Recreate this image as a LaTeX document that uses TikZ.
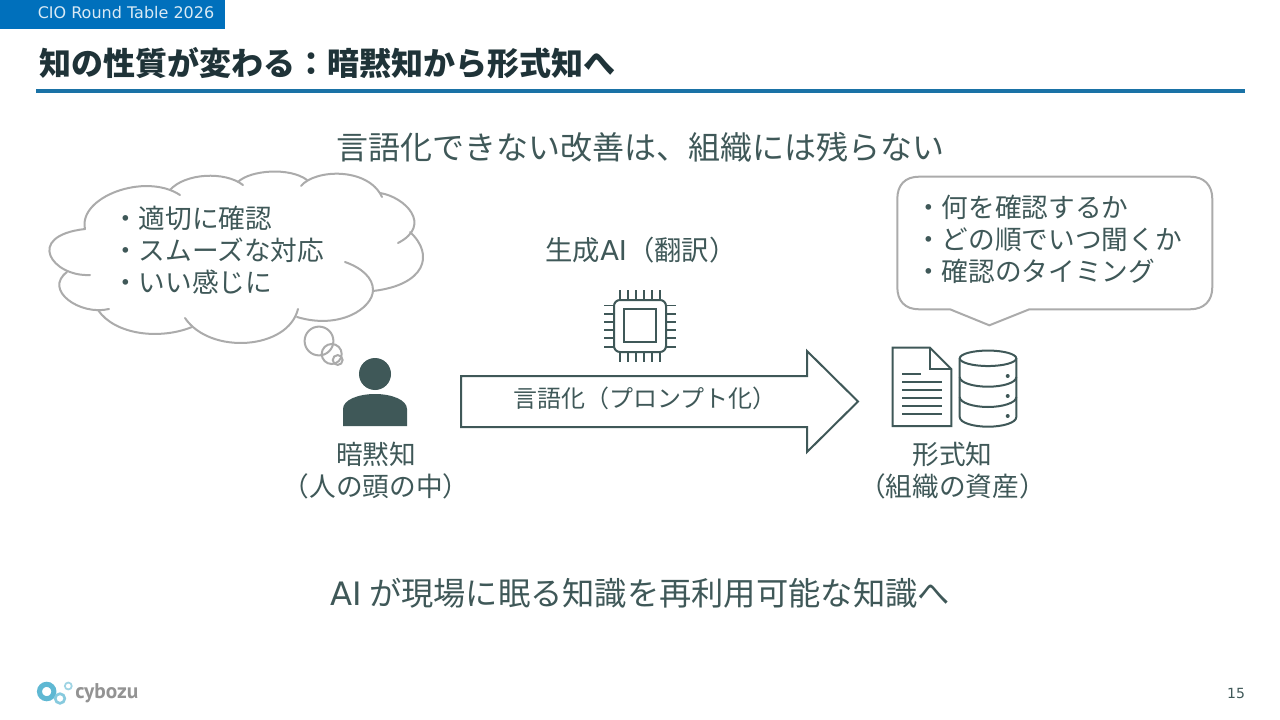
\documentclass[tikz,border=0pt]{standalone}
\usepackage{fontspec}
\setmainfont{Noto Sans CJK JP}
\newfontfamily\latinfont{DejaVu Sans}
\newfontfamily\logofont{PT Sans}
\definecolor{ink}{HTML}{3F5858}
\definecolor{titleink}{HTML}{1F3338}
\definecolor{band}{HTML}{0070BC}
\definecolor{rulecol}{HTML}{1A72A6}
\definecolor{cloudgray}{HTML}{ABABAB}
\definecolor{logoblue}{HTML}{5FB8D3}
\tikzset{
  x=0.75pt,y=-0.75pt,
  label24/.style={inner sep=0pt,text=ink,font=\fontsize{24}{28}\selectfont},
  label20/.style={inner sep=0pt,text=ink,font=\fontsize{20}{24}\selectfont,align=center},
  bullets/.style={inner sep=0pt,text=ink,anchor=west,font=\fontsize{20}{24}\selectfont,align=left},
  lobe/.style={draw=cloudgray,line width=1.5pt,line cap=round},
  icon/.style={draw=ink,line width=1.5pt},
  thin icon/.style={draw=ink,line width=1.4pt},
}
\begin{document}
\begin{tikzpicture}
\useasboundingbox (0,0) rectangle (1280,720);
\fill[white] (0,0) rectangle (1280,720);
% header
\fill[band] (0,0) rectangle (225,29);
\node[inner sep=0pt,text=white!85!band,font=\latinfont\fontsize{12}{14}\selectfont] (tag) at (126,13) {CIO Round Table 2026};
\node[inner sep=0pt,anchor=west,text=titleink,font=\bfseries\fontsize{24}{28}\selectfont] (title) at (39,63) {知の性質が変わる：暗黙知から形式知へ};
\draw[rulecol,line width=2.5pt] (36,91) -- (1245,91);
\node[label24] (head) at (640.5,147) {言語化できない改善は、組織には残らない};
% cloud
\draw[lobe] (85,229) .. controls (78,197) and (145,172) .. (180,195);
\draw[lobe] (170,190) .. controls (185,173) and (225,171) .. (243,185);
\draw[lobe] (238,182) .. controls (250,170) and (290,167) .. (307,180);
\draw[lobe] (301,186) .. controls (315,169) and (368,167) .. (382,197);
\draw[lobe] (380,193) .. controls (405,197) and (433,225) .. (398,243);
\draw[lobe] (410,232) .. controls (435,255) and (425,285) .. (373,291);
\draw[lobe] (345,262) .. controls (362,268) and (373,278) .. (373,290) .. controls (373,308) and (340,330) .. (297,317);
\draw[lobe] (298,309) .. controls (288,350) and (210,355) .. (185,318);
\draw[lobe] (192,327) .. controls (160,340) and (115,335) .. (98,310);
\draw[lobe] (109,309) .. controls (80,316) and (43,290) .. (67,272);
\draw[lobe] (90,275) .. controls (52,277) and (24,236) .. (85,229);
\node[bullets] (cloudtext) at (112,250) {\baselineskip=24pt ・適切に確認\\ ・スムーズな対応\\ ・いい感じに};
% thought circles
\draw[lobe] (319,341) circle[radius=10.8pt];
\draw[lobe] (331.7,354) circle[radius=7.5pt];
\draw[lobe] (337.7,360) circle[radius=3.7pt];
% person
\fill[ink] (375,374) circle[radius=12pt];
\fill[ink] (343,426) -- (343,409) .. controls (343,400) and (358,394) .. (375,394) .. controls (392,394) and (407,400) .. (407,409) -- (407,426) -- cycle;
\node[label20] (tacit) at (376,470.5) {\baselineskip=23.5pt 暗黙知\\（人の頭の中）};
% chip
\node[inner sep=0pt,text=ink,font=\fontsize{20.5}{24}\selectfont] (genai) at (641,250) {生成{\latinfont AI}（翻訳）};
\draw[icon,rounded corners=4.5pt] (614,300) rectangle (666,352);
\draw[icon,line width=1.7pt] (623.7,309.3) rectangle (656,342);
\foreach \p in {620,628,636,644,652,660}{
  \draw[thin icon] (\p,290) -- (\p,300);
  \draw[thin icon] (\p,352) -- (\p,362);
}
\foreach \p in {305.5,313.7,321.7,330,338,346.7}{
  \draw[thin icon] (604,\p) -- (614,\p);
  \draw[thin icon] (666,\p) -- (676,\p);
}
% block arrow
\draw[icon,fill=white,line join=miter] (461,376) -- (807,376) -- (807,351) -- (858,401.5) -- (807,452) -- (807,427) -- (461,427) -- cycle;
\node[inner sep=0pt,text=ink,font=\fontsize{18}{21}\selectfont] (verbal) at (645,398.5) {言語化（プロンプト化）};
% speech bubble
\draw[draw=cloudgray,line width=1.5pt,fill=white]
  (919,176.7) -- (1190,176.7) .. controls (1204,176.7) and (1212.3,185) .. (1212.3,199) -- (1212.3,287) .. controls (1212.3,301) and (1204,309.3) .. (1190,309.3)
  -- (1029.3,309.3) -- (989.3,325.3) -- (950,309.3) -- (919,309.3) .. controls (905,309.3) and (897.3,301) .. (897.3,287) -- (897.3,199) .. controls (897.3,185) and (905,176.7) .. (919,176.7) -- cycle;
\node[bullets] (bubbletext) at (915,239) {\baselineskip=24pt ・何を確認するか\\ ・どの順でいつ聞くか\\ ・確認のタイミング};
% document icon
\draw[icon,line join=miter] (892.7,347.7) -- (930,347.7) -- (951.3,369) -- (951.3,426) -- (892.7,426) -- cycle;
\draw[icon] (930,347.7) -- (930,369) -- (951.3,369);
\draw[thin icon] (902.3,373.7) -- (921,373.7);
\foreach \p in {381.7,389.7,397.7,405.7,413.7}{\draw[thin icon] (902.3,\p) -- (942,\p);}
% database icon
\draw[icon] (988,358.3) ellipse[x radius=21.2pt,y radius=5.8pt];
\draw[icon] (959.7,358.3) -- (959.7,417) .. controls (959.7,423) and (974,426.7) .. (988,426.7) .. controls (1002,426.7) and (1016.3,423) .. (1016.3,417) -- (1016.3,358.3);
\draw[icon] (959.7,377) .. controls (959.7,383) and (974,386.7) .. (988,386.7) .. controls (1002,386.7) and (1016.3,383) .. (1016.3,377);
\draw[icon] (959.7,397) .. controls (959.7,403) and (974,407) .. (988,407) .. controls (1002,407) and (1016.3,403) .. (1016.3,397);
\foreach \p in {376,396,416}{\fill[ink] (1007.7,\p) circle[radius=1.5pt];}
\node[label20] (explicit) at (952.5,470.5) {\baselineskip=23.5pt 形式知\\（組織の資産）};
% bottom message
\node[label24,font=\fontsize{24.2}{28}\selectfont] (bottom) at (640,593) {{\latinfont AI} が現場に眠る知識を再利用可能な知識へ};
% logo
\draw[logoblue,line width=3.8pt] (46.7,691.5) circle[radius=5.4pt];
\draw[logoblue!75!white,line width=2pt] (60,698.5) circle[radius=3.6pt];
\draw[logoblue!60!white,line width=1.3pt] (68.3,686) circle[radius=2.6pt];
\node[inner sep=0pt,anchor=west,text=gray!85,font=\logofont\bfseries\fontsize{16}{20}\selectfont] (logo) at (75,693.5) {cybozu};
\node[inner sep=0pt,text=ink,font=\latinfont\fontsize{10.5}{12}\selectfont] (page) at (1236,693) {15};
\end{tikzpicture}
\end{document}
